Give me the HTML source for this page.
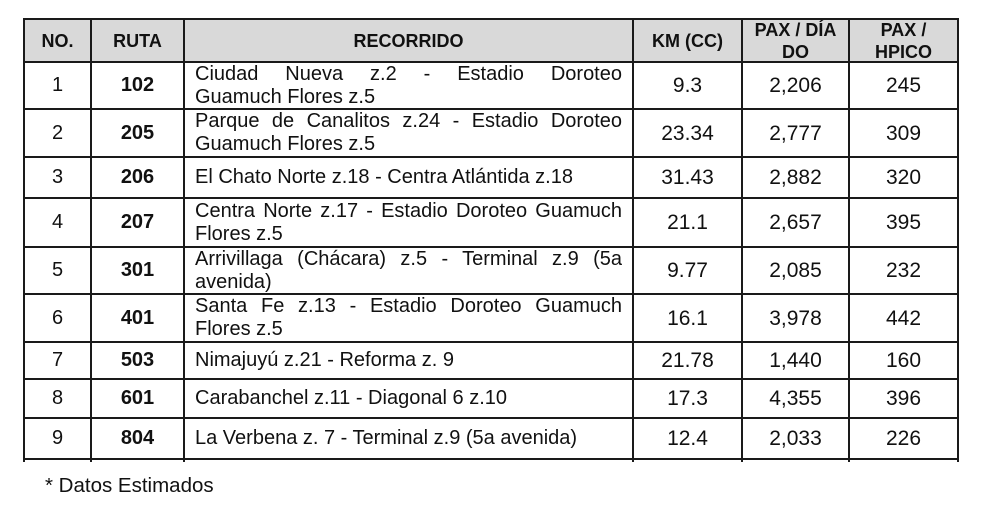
<!DOCTYPE html>
<html>
<head>
<meta charset="utf-8">
<style>
  html,body{margin:0;padding:0;}
  body{width:991px;height:508px;background:#fff;position:relative;overflow:hidden;font-family:"Liberation Sans",sans-serif;color:#111;}
  .hl{position:absolute;left:23px;width:936px;height:2px;background:#1a1a1a;}
  .vl{position:absolute;top:18px;height:444px;width:2px;background:#1a1a1a;}
  .r{position:absolute;left:0;width:991px;}
  .r>div{position:absolute;top:0;height:100%;display:flex;align-items:center;justify-content:center;text-align:center;line-height:23px;}
  .a{left:24px;width:67px;font-size:20px;}
  .b{left:91px;width:93px;font-weight:bold;font-size:20px;}
  .r>.t{left:195px;width:427px;justify-content:flex-start;text-align:left;font-size:20px;}
  .k{left:633px;width:109px;font-size:21px;}
  .p{left:742px;width:107px;font-size:21px;}
  .h{left:849px;width:109px;font-size:21px;}
  .w{width:100%;}
  .j{text-align:justify;text-align-last:justify;}
  .hd>div{font-weight:bold;font-size:18px;line-height:22px;}
  .foot{position:absolute;left:45px;top:474px;font-size:20.5px;line-height:24px;white-space:nowrap;}
</style>
</head>
<body>
<div style="position:absolute;left:24px;top:19px;width:934px;height:43px;background:#d9d9d9;"></div>

<!-- header -->
<div class="r hd" style="top:19px;height:43px;">
  <div class="a">NO.</div>
  <div class="b">RUTA</div>
  <div style="left:184px;width:449px;">RECORRIDO</div>
  <div class="k">KM (CC)</div>
  <div class="p">PAX / DÍA<br>DO</div>
  <div class="h">PAX /<br>HPICO</div>
</div>

<div class="r" style="top:62px;height:47px;">
  <div class="a">1</div><div class="b">102</div>
  <div class="t"><div class="w"><div class="j">Ciudad Nueva z.2 - Estadio Doroteo</div><div>Guamuch Flores z.5</div></div></div>
  <div class="k">9.3</div><div class="p">2,206</div><div class="h">245</div>
</div>

<div class="r" style="top:109px;height:48px;">
  <div class="a">2</div><div class="b">205</div>
  <div class="t"><div class="w"><div class="j">Parque de Canalitos z.24 - Estadio Doroteo</div><div>Guamuch Flores z.5</div></div></div>
  <div class="k">23.34</div><div class="p">2,777</div><div class="h">309</div>
</div>

<div class="r" style="top:157px;height:41px;">
  <div class="a">3</div><div class="b">206</div>
  <div class="t">El Chato Norte z.18 - Centra Atlántida z.18</div>
  <div class="k">31.43</div><div class="p">2,882</div><div class="h">320</div>
</div>

<div class="r" style="top:198px;height:49px;">
  <div class="a">4</div><div class="b">207</div>
  <div class="t"><div class="w"><div class="j">Centra Norte z.17 - Estadio Doroteo Guamuch</div><div>Flores z.5</div></div></div>
  <div class="k">21.1</div><div class="p">2,657</div><div class="h">395</div>
</div>

<div class="r" style="top:247px;height:47px;">
  <div class="a">5</div><div class="b">301</div>
  <div class="t"><div class="w"><div class="j">Arrivillaga (Chácara) z.5 - Terminal z.9 (5a</div><div>avenida)</div></div></div>
  <div class="k">9.77</div><div class="p">2,085</div><div class="h">232</div>
</div>

<div class="r" style="top:294px;height:48px;">
  <div class="a">6</div><div class="b">401</div>
  <div class="t"><div class="w"><div class="j">Santa Fe z.13 - Estadio Doroteo Guamuch</div><div>Flores z.5</div></div></div>
  <div class="k">16.1</div><div class="p">3,978</div><div class="h">442</div>
</div>

<div class="r" style="top:342px;height:37px;">
  <div class="a">7</div><div class="b">503</div>
  <div class="t">Nimajuyú z.21 - Reforma z. 9</div>
  <div class="k">21.78</div><div class="p">1,440</div><div class="h">160</div>
</div>

<div class="r" style="top:379px;height:39px;">
  <div class="a">8</div><div class="b">601</div>
  <div class="t">Carabanchel z.11 - Diagonal 6 z.10</div>
  <div class="k">17.3</div><div class="p">4,355</div><div class="h">396</div>
</div>

<div class="r" style="top:418px;height:41px;">
  <div class="a">9</div><div class="b">804</div>
  <div class="t">La Verbena z. 7 - Terminal z.9 (5a avenida)</div>
  <div class="k">12.4</div><div class="p">2,033</div><div class="h">226</div>
</div>

<!-- horizontal lines -->
<div class="hl" style="top:18px;"></div>
<div class="hl" style="top:61px;"></div>
<div class="hl" style="top:108px;"></div>
<div class="hl" style="top:156px;"></div>
<div class="hl" style="top:197px;"></div>
<div class="hl" style="top:246px;"></div>
<div class="hl" style="top:293px;"></div>
<div class="hl" style="top:341px;"></div>
<div class="hl" style="top:378px;"></div>
<div class="hl" style="top:417px;"></div>
<div class="hl" style="top:458px;"></div>

<!-- vertical lines -->
<div class="vl" style="left:23px;"></div>
<div class="vl" style="left:90px;"></div>
<div class="vl" style="left:183px;"></div>
<div class="vl" style="left:632px;"></div>
<div class="vl" style="left:741px;"></div>
<div class="vl" style="left:848px;"></div>
<div class="vl" style="left:957px;"></div>

<div class="foot">* Datos Estimados</div>
</body>
</html>
